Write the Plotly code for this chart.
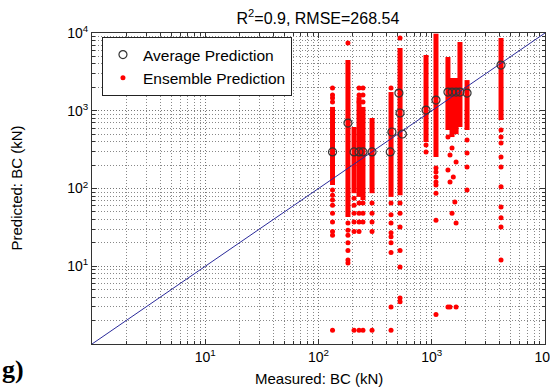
import plotly.graph_objects as go

# ---------------- data ----------------
# Ensemble prediction: dense vertical bands per measured value
band_measured = [133, 182, 206, 228, 247, 297, 437, 525, 890, 1090, 1390, 1510, 1640, 1775, 2050, 4090]
band_low      = [111,  43,  87,  78,  71,  87,  78,  82, 396,  254,  565,  459,  500,  618,  565,  760]
band_high     = [1120, 4500, 618, 1500, 1120, 807, 1740, 6410, 5210, 9800, 4910, 2640, 2640, 7660, 2480, 8630]

# Ensemble prediction: individual (isolated) points
ens_measured = [133, 133, 133, 133, 133, 133, 133, 133, 133, 133, 133, 133, 133,
                182, 182, 182, 182, 182, 182, 182, 182,
                206, 206, 206, 206, 206, 206,
                228, 228, 228, 228, 228, 228, 228, 228,
                247, 247, 247, 247, 247, 247, 247,
                297, 297, 297, 297, 297,
                437, 437, 437, 437, 437, 437, 437, 437, 437, 437,
                525, 525, 525, 525, 525, 525, 525, 525,
                890, 890,
                1090, 1090, 1090, 1090, 1090, 1090, 1090, 1090,
                1390, 1510, 1450, 1640, 1390, 1550, 1450, 1600, 1510, 1640, 1450, 1390, 1640,
                2050, 2050, 2050, 2050,
                4090, 4090, 4090, 4090, 4090, 4090, 4090, 4090, 4090, 4090]
ens_predicted = [1960, 1600, 1460, 1300, 96, 82, 71, 61, 48, 37, 28, 25, 1.5,
                 7430, 36, 29, 25, 20, 16, 12, 11,
                 75, 61, 48, 37, 28, 1.5,
                 1960, 1600, 1300, 65, 48, 37, 28, 1.5,
                 1960, 1600, 1300, 65, 48, 37, 1.5,
                 65, 48, 37, 28, 1.5,
                 1960, 65, 46, 36, 27, 24, 20, 15, 3.0, 1.5,
                 8630, 65, 48, 32, 16, 9.8, 3.9, 3.5,
                 363, 295,
                 184, 163, 141, 121, 111, 87, 39, 2.4,
                 459, 332, 270, 219, 173, 141, 121, 67, 48, 36, 3.0, 3.0, 3.0,
                 421, 286, 189, 96,
                 565, 459, 385, 254, 189, 105, 58, 42, 32, 12]

# Average prediction (circles)
avg_measured  = [133, 182, 206, 228, 247, 297, 430, 445, 513, 525, 550, 890, 1090, 1390, 1510, 1640, 1775, 2050, 4090]
avg_predicted = [295, 695, 295, 295, 295, 295, 295, 533, 1690, 935, 502, 1020, 1370, 1740, 1740, 1740, 1740, 1690, 3870]

# 1:1 line
diag = [1, 10000]

tick_vals = [10, 100, 1000, 10000]
tick_text = ["10<sup>1</sup>", "10<sup>2</sup>", "10<sup>3</sup>", "10<sup>4</sup>"]
minor_ticks = [k * 10 ** d for d in range(0, 4) for k in range(2, 10)]

# ---------------- figure ----------------
RED = "#ff0000"
fig = go.Figure()

seg_x, seg_y = [], []
for xm, lo, hi in zip(band_measured, band_low, band_high):
    seg_x += [xm, xm, None]
    seg_y += [lo, hi, None]
fig.add_trace(go.Scatter(x=seg_x, y=seg_y, mode="lines",
                         line=dict(color=RED, width=5), showlegend=False,
                         hoverinfo="skip"))
fig.add_trace(go.Scatter(x=ens_measured, y=ens_predicted, mode="markers",
                         name="Ensemble Prediction", legendrank=2,
                         marker=dict(color=RED, size=5)))
fig.add_trace(go.Scatter(x=diag, y=diag, mode="lines", showlegend=False,
                         line=dict(color="#2a2a9a", width=1)))
fig.add_trace(go.Scatter(x=avg_measured, y=avg_predicted, mode="markers",
                         name="Average Prediction", legendrank=1,
                         marker=dict(symbol="circle-open", size=8,
                                     color="#333333", line=dict(width=1.2))))

font = "Liberation Sans, Arial, sans-serif"
GRID_DASH = "1px,2px"
axis_common = dict(
    type="log", range=[0, 4], showline=True, linecolor="#333333", linewidth=1,
    mirror="allticks", ticks="inside", ticklen=5, tickcolor="#333333",
    showgrid=True, gridcolor="#777777", griddash=GRID_DASH, gridwidth=1,
    zeroline=False, tickvals=tick_vals, ticktext=tick_text,
    ticklabeloverflow="allow", automargin=False,
    tickfont=dict(family=font, size=14, color="#000000"),
    minor=dict(tickvals=minor_ticks, ticks="inside", ticklen=3, tickcolor="#333333",
               showgrid=True, gridcolor="#888888", griddash=GRID_DASH, gridwidth=1),
)

fig.update_layout(
    width=550, height=392,
    margin=dict(l=92, r=5, t=33, b=48, autoexpand=False),
    paper_bgcolor="white", plot_bgcolor="white",
    font=dict(family=font, size=15, color="#000000"),
    title=dict(text="R<sup>2</sup>=0.9, RMSE=268.54", x=0.578, xanchor="center",
               y=1 - 18 / 392, yanchor="middle", yref="container",
               font=dict(family=font, size=16, color="#000000")),
    xaxis=axis_common,
    yaxis=axis_common,
    legend=dict(x=0.022, y=0.987, xanchor="left", yanchor="top",
                bgcolor="white", bordercolor="#222222", borderwidth=1,
                font=dict(family=font, size=15.5, color="#000000"),
                tracegroupgap=0),
    showlegend=True,
    annotations=[
        dict(text="Measured: BC (kN)", xref="paper", yref="paper",
             x=0.5, y=-34 / 311, xanchor="center", yanchor="middle",
             showarrow=False, font=dict(family=font, size=15)),
        dict(text="Predicted: BC (kN)", xref="paper", yref="paper",
             x=-76 / 453, y=0.5, xanchor="center", yanchor="middle",
             textangle=-90, showarrow=False, font=dict(family=font, size=15)),
        dict(text="<b>g)</b>", xref="paper", yref="paper",
             x=-92 / 453, y=-(386 - 344) / 311, xanchor="left", yanchor="bottom",
             showarrow=False,
             font=dict(family="Liberation Serif, Times New Roman, serif", size=26)),
    ],
)

fig.write_html("out.html")
